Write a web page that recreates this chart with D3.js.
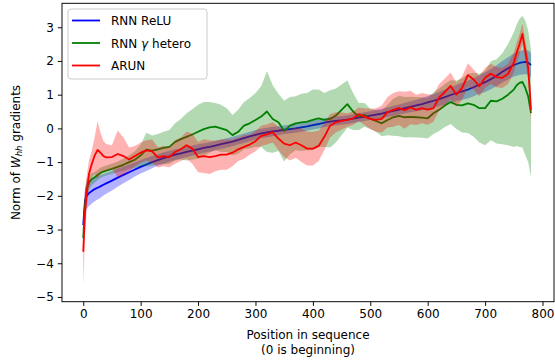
<!DOCTYPE html>
<html>
<head>
<meta charset="utf-8">
<script src="https://cdn.jsdelivr.net/npm/d3@7"></script>
<style>
  body { margin: 0; background: #fff; }
  text { font-family: "DejaVu Sans", sans-serif; fill: #000; }
</style>
</head>
<body>
<div id="chart"></div>
<script>
// position in the sequence (shared x for every series)
const positions = [
  0, 3, 6, 10, 15, 20, 25, 30, 35, 40,
  50, 60, 70, 80, 90, 100, 110, 120, 130, 140,
  150, 160, 170, 180, 190, 200, 210, 220, 230, 240,
  250, 260, 270, 280, 290, 300, 310, 320, 330, 340,
  350, 360, 370, 380, 390, 400, 410, 420, 430, 440,
  450, 460, 470, 480, 490, 500, 510, 520, 530, 540,
  550, 560, 570, 580, 590, 600, 610, 620, 630, 640,
  650, 660, 670, 680, 690, 700, 710, 720, 730, 740,
  750, 755, 760, 765, 770, 775, 780
];

// RNN ReLU
const reluMean = [
  -2.87, -2.15, -2.0, -1.92, -1.86, -1.8, -1.76, -1.72, -1.67, -1.63,
  -1.55, -1.46, -1.38, -1.3, -1.22, -1.14, -1.07, -1.0, -0.94, -0.88,
  -0.83, -0.78, -0.74, -0.7, -0.66, -0.62, -0.58, -0.55, -0.51, -0.47,
  -0.43, -0.39, -0.34, -0.29, -0.24, -0.19, -0.15, -0.12, -0.09, -0.07,
  -0.04, -0.02, 0.0, 0.03, 0.06, 0.1, 0.13, 0.17, 0.2, 0.22,
  0.24, 0.26, 0.29, 0.32, 0.35, 0.38, 0.41, 0.44, 0.48, 0.52,
  0.56, 0.6, 0.64, 0.68, 0.72, 0.77, 0.82, 0.87, 0.93, 0.99,
  1.05, 1.1, 1.15, 1.22, 1.3, 1.37, 1.46, 1.56, 1.68, 1.78,
  1.88, 1.91, 1.94, 1.96, 1.97, 1.95, 1.88
];
const reluStd = [
  0.3, 0.35, 0.38, 0.38, 0.37, 0.36, 0.35, 0.34, 0.32, 0.31,
  0.29, 0.27, 0.25, 0.23, 0.21, 0.2, 0.19, 0.18, 0.17, 0.17,
  0.16, 0.16, 0.15, 0.15, 0.15, 0.15, 0.14, 0.14, 0.14, 0.14,
  0.14, 0.14, 0.14, 0.14, 0.14, 0.14, 0.14, 0.14, 0.14, 0.13,
  0.13, 0.13, 0.13, 0.13, 0.13, 0.13, 0.13, 0.13, 0.13, 0.13,
  0.13, 0.13, 0.13, 0.13, 0.13, 0.13, 0.14, 0.14, 0.14, 0.15,
  0.15, 0.16, 0.16, 0.17, 0.18, 0.19, 0.2, 0.21, 0.22, 0.23,
  0.24, 0.25, 0.26, 0.27, 0.28, 0.29, 0.3, 0.31, 0.32, 0.33,
  0.34, 0.35, 0.35, 0.36, 0.36, 0.36, 0.36
];

// RNN gamma hetero
const heteroMean = [
  -3.25, -2.3, -1.8, -1.6, -1.5, -1.45, -1.38, -1.32, -1.28, -1.25,
  -1.2, -1.14, -1.08, -1.0, -0.93, -0.8, -0.63, -0.66, -0.62, -0.58,
  -0.55, -0.4, -0.32, -0.25, -0.18, -0.1, -0.02, 0.03, 0.05, 0.0,
  -0.05, -0.2, -0.1, 0.08, 0.15, 0.25, 0.35, 0.5, 0.28, 0.18,
  -0.08, 0.08, 0.15, 0.18, 0.2, 0.25, 0.3, 0.25, 0.28, 0.38,
  0.55, 0.72, 0.5, 0.35, 0.4, 0.28, 0.22, 0.15, 0.25, 0.33,
  0.37, 0.33, 0.34, 0.33, 0.32, 0.3, 0.45, 0.55, 0.68, 0.78,
  0.7, 0.68, 0.74, 0.7, 0.6, 0.6, 0.82, 0.8, 0.88, 1.0,
  1.15, 1.28, 1.35, 1.38, 1.2, 0.95, 0.45
];
const heteroStd = [
  0.5, 0.4, 0.3, 0.22, 0.18, 0.16, 0.15, 0.15, 0.15, 0.15,
  0.15, 0.16, 0.18, 0.2, 0.25, 0.32, 0.5, 0.45, 0.45, 0.48,
  0.5, 0.55, 0.6, 0.7, 0.75, 0.8, 0.8, 0.75, 0.7, 0.7,
  0.65, 0.6, 0.65, 0.7, 0.75, 0.8, 0.9, 1.2, 1.0, 0.85,
  0.9, 0.85, 0.8, 0.85, 0.85, 0.9, 0.85, 0.8, 0.85, 0.8,
  0.75, 0.7, 0.55, 0.4, 0.35, 0.3, 0.32, 0.38, 0.45, 0.55,
  0.6, 0.6, 0.6, 0.6, 0.6, 0.6, 0.62, 0.63, 0.64, 0.65,
  0.72, 0.8, 0.88, 0.95, 1.02, 1.1, 1.17, 1.25, 1.35, 1.5,
  1.7, 1.8, 1.9, 1.95, 2.0, 1.95, 1.9
];

// ARUN
const arunMean = [
  -3.66, -2.5, -1.93, -1.35, -1.05, -0.8, -0.64, -0.72, -0.82, -0.86,
  -0.85, -0.76, -0.82, -0.92, -0.82, -0.72, -0.65, -0.68, -0.86, -0.82,
  -0.85, -0.7, -0.62, -0.5, -0.6, -0.85, -0.82, -0.85, -0.82, -0.78,
  -0.78, -0.72, -0.62, -0.55, -0.48, -0.38, -0.22, -0.18, -0.12, -0.3,
  -0.45, -0.5, -0.42, -0.5, -0.6, -0.6, -0.52, -0.25, 0.08, 0.18,
  0.22, 0.25, 0.3, 0.42, 0.35, 0.28, 0.25, 0.28, 0.48, 0.55,
  0.6, 0.54, 0.62, 0.55, 0.6, 0.56, 0.6, 0.92, 1.08, 1.26,
  1.0, 1.2, 1.58, 1.45, 1.25, 1.5, 1.62, 1.52, 1.5, 1.62,
  1.95, 2.25, 2.5, 2.8, 2.3, 1.8, 0.55
];
const arunStd = [
  1.0, 0.7, 0.5, 0.4, 0.4, 0.55, 0.85, 0.6, 0.45, 0.4,
  0.35, 0.7, 0.55, 0.35, 0.3, 0.3, 0.3, 0.35, 0.3, 0.3,
  0.3, 0.35, 0.35, 0.4, 0.45, 0.45, 0.5, 0.5, 0.45, 0.45,
  0.45, 0.4, 0.35, 0.35, 0.3, 0.3, 0.3, 0.3, 0.3, 0.35,
  0.4, 0.45, 0.45, 0.5, 0.5, 0.5, 0.45, 0.4, 0.35, 0.3,
  0.25, 0.2, 0.2, 0.2, 0.25, 0.3, 0.35, 0.4, 0.45, 0.5,
  0.5, 0.55, 0.5, 0.45, 0.45, 0.45, 0.4, 0.4, 0.4, 0.4,
  0.35, 0.35, 0.35, 0.3, 0.3, 0.3, 0.3, 0.3, 0.3, 0.3,
  0.3, 0.3, 0.3, 0.3, 0.3, 0.35, 0.4
];

const xTicks = [0, 100, 200, 300, 400, 500, 600, 700, 800];
const yTicks = [-5, -4, -3, -2, -1, 0, 1, 2, 3];

const series = [
  { name: "RNN ReLU", mean: reluMean, std: reluStd, color: "#0000ff" },
  { name: "RNN γ hetero", mean: heteroMean, std: heteroStd, color: "#008000" },
  { name: "ARUN", mean: arunMean, std: arunStd, color: "#ff0000" }
];

let
  width = 555,
  height = 364,
  m = { top: 3.3, right: 1, bottom: 62.3, left: 62 },
  fontSize = 12;

let svg = d3.select("#chart")
            .append("svg")
            .attr("width", width)
            .attr("height", height);

let x = d3.scaleLinear()
          .domain([-37, 820])
          .range([m.left, width - m.right]);

let y = d3.scaleLinear()
          .domain([-5.14, 3.71])
          .range([height - m.bottom, m.top]);

let fmt = function(d) { return d < 0 ? "\u2212" + Math.abs(d) : "" + d; };

/* bands and lines, one series after the other */
series.forEach(function(s) {
  let pts = positions.map(function(p, i) {
    return { x: p, m: s.mean[i], lo: s.mean[i] - s.std[i], hi: s.mean[i] + s.std[i] };
  });

  let area = d3.area()
               .x(function(d) { return x(d.x); })
               .y0(function(d) { return y(d.lo); })
               .y1(function(d) { return y(d.hi); });

  let line = d3.line()
               .x(function(d) { return x(d.x); })
               .y(function(d) { return y(d.m); });

  svg.append("path")
     .datum(pts)
     .attr("d", area)
     .attr("fill", s.color)
     .attr("fill-opacity", 0.3)
     .attr("stroke", "none");

  svg.append("path")
     .datum(pts)
     .attr("d", line)
     .attr("fill", "none")
     .attr("stroke", s.color)
     .attr("stroke-width", 1.8)
     .attr("stroke-linejoin", "round");
});

/* axes */
let xAxis = svg.append("g")
               .attr("transform", "translate(0," + (height - m.bottom) + ")")
               .call(d3.axisBottom(x).tickValues(xTicks).tickSize(4.2).tickPadding(4).tickFormat(fmt));

let yAxis = svg.append("g")
               .attr("transform", "translate(" + m.left + ",0)")
               .call(d3.axisLeft(y).tickValues(yTicks).tickSize(4.2).tickPadding(4).tickFormat(fmt));

[xAxis, yAxis].forEach(function(a) {
  a.select(".domain").remove();
  a.selectAll("line").attr("stroke", "#000").attr("stroke-width", 0.96);
  a.selectAll("text")
   .style("font-family", "DejaVu Sans")
   .style("font-size", fontSize + "px")
   .attr("fill", "#000");
});

/* frame */
svg.append("rect")
   .attr("x", m.left)
   .attr("y", m.top)
   .attr("width", width - m.right - m.left)
   .attr("height", height - m.bottom - m.top)
   .attr("fill", "none")
   .attr("stroke", "#000")
   .attr("stroke-width", 0.96);

/* axis labels */
let cx = (m.left + width - m.right) / 2;
svg.append("text")
   .attr("x", cx)
   .attr("y", 339)
   .attr("text-anchor", "middle")
   .style("font-size", fontSize + "px")
   .text("Position in sequence");
svg.append("text")
   .attr("x", cx)
   .attr("y", 354)
   .attr("text-anchor", "middle")
   .style("font-size", fontSize + "px")
   .text("(0 is beginning)");

let cy = (m.top + height - m.bottom) / 2;
let yl = svg.append("text")
            .attr("transform", "translate(19.5," + cy + ") rotate(-90)")
            .attr("text-anchor", "middle")
            .style("font-size", fontSize + "px");
yl.append("tspan").text("Norm of ");
yl.append("tspan").style("font-style", "italic").text("W");
yl.append("tspan").style("font-style", "italic").style("font-size", "8.5px").attr("dy", 2.5).text("hh");
yl.append("tspan").attr("dy", -2.5).text(" gradients");

/* legend */
let lg = svg.append("g").attr("transform", "translate(68,9)");
lg.append("rect")
  .attr("width", 139)
  .attr("height", 70)
  .attr("rx", 3)
  .attr("fill", "#fff")
  .attr("fill-opacity", 0.8)
  .attr("stroke", "#cccccc")
  .attr("stroke-width", 1);

let items = lg.selectAll(".legend")
              .data(series)
              .enter().append("g")
              .attr("class", "legend")
              .attr("transform", function(d, i) { return "translate(0," + (11.5 + i * 22.5) + ")"; });

items.append("line")
     .attr("x1", 4).attr("x2", 32)
     .attr("stroke", function(d) { return d.color; })
     .attr("stroke-width", 1.8);

items.append("text")
     .attr("x", 43)
     .attr("y", 4.5)
     .style("font-size", fontSize + "px")
     .each(function(d) {
       let t = d3.select(this);
       if (d.name.indexOf("γ") >= 0) {
         t.append("tspan").text("RNN ");
         t.append("tspan").style("font-style", "italic").text("γ");
         t.append("tspan").text(" hetero");
       } else {
         t.text(d.name);
       }
     });
</script>
</body>
</html>
